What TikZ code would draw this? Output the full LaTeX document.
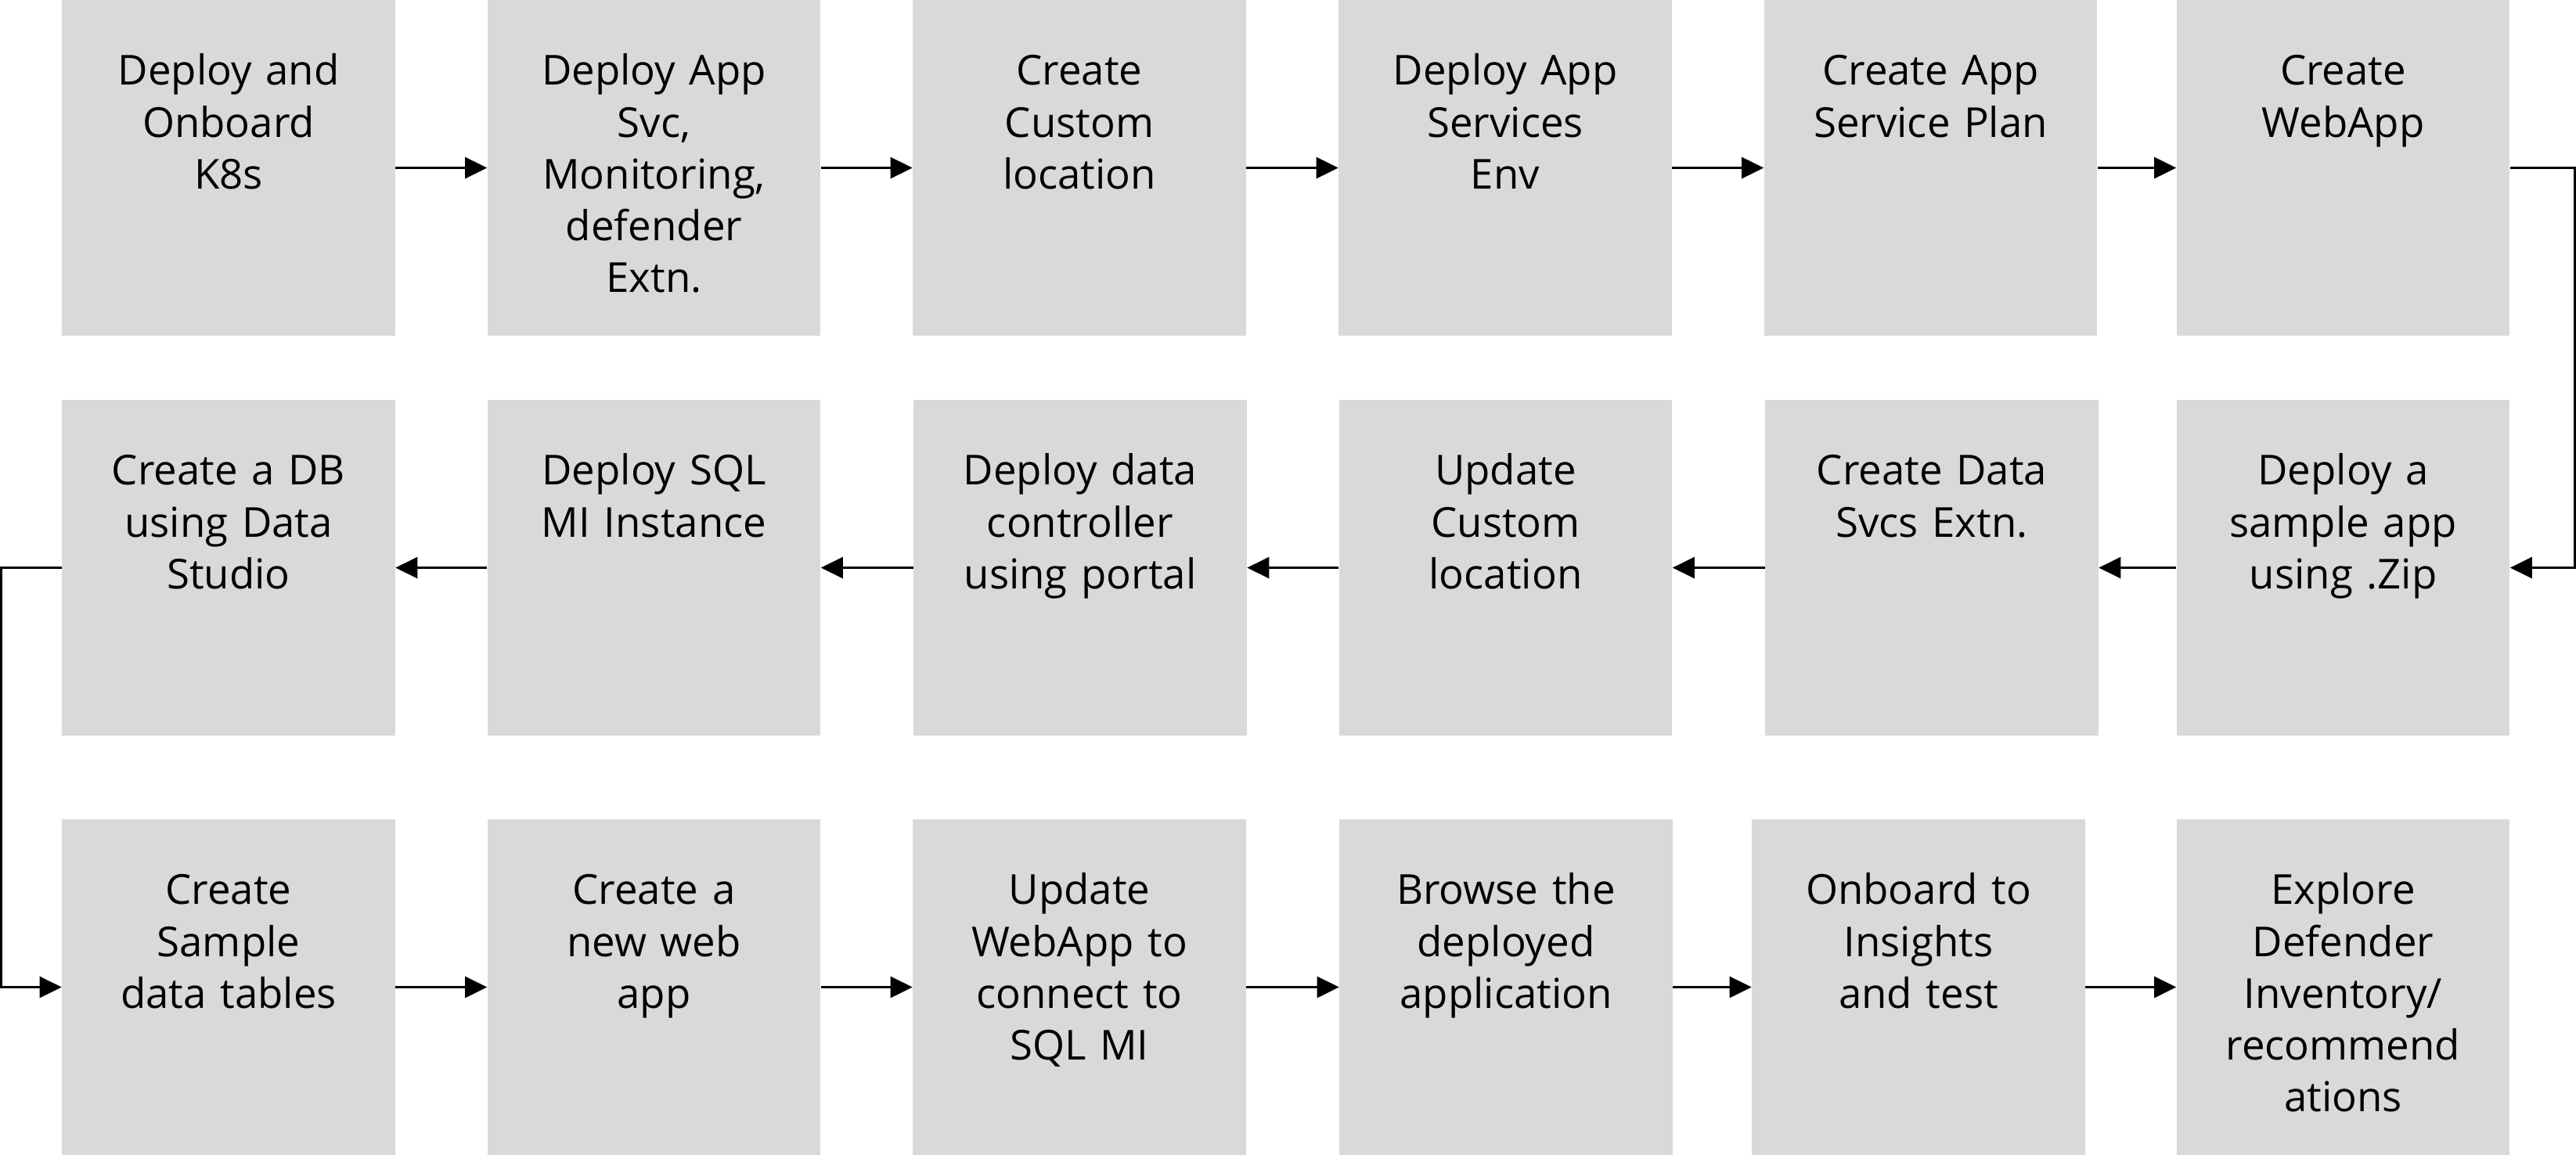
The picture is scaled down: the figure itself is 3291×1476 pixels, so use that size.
\documentclass[tikz,border=0pt]{standalone}
\usepackage{fontspec}
\setmainfont{Open Sans}
\usepackage{tikz}
\usetikzlibrary{arrows.meta}

\definecolor{boxgray}{HTML}{D9D9D9}

\tikzset{
  stepbox/.style = {rectangle, fill = boxgray, inner sep = 0pt, text width = 4.25cm, align = center,
    text height = 1.09cm, text depth = 3.20cm, font = \fontsize{15pt}{18.8pt}\selectfont},
  flow/.style = {line width = 0.8pt, -{Triangle[length = 0.28cm, width = 0.27cm]}}
}

\begin{document}
\begin{tikzpicture}[x = 0.01cm, y = -0.01cm]
\useasboundingbox (0, 0) rectangle (3291, 1476);

% first row, left to right
\node (k8s) at (292, 214.5) [stepbox]{Deploy and\\Onboard\\K8s};
\node (extn) at (835.5, 214.5) [stepbox]{Deploy App\\Svc,\\Monitoring,\\defender\\Extn.};
\node (custloc) at (1379, 214.5) [stepbox]{Create\\Custom\\location};
\node (appenv) at (1923, 214.5) [stepbox]{Deploy App\\Services\\Env};
\node (plan) at (2466.5, 214.5) [stepbox]{Create App\\Service Plan};
\node (webapp) at (2993.5, 214.5) [stepbox]{Create\\WebApp};

% second row, right to left
\node (sample) at (2993.5, 725.5) [stepbox]{Deploy a\\sample app\\using .Zip};
\node (datasvc) at (2468, 725.5) [stepbox]{Create Data\\Svcs Extn.};
\node (updloc) at (1923.5, 725.5) [stepbox]{Update\\Custom\\location};
\node (ctrl) at (1380, 725.5) [stepbox]{Deploy data\\controller\\using portal};
\node (sqlmi) at (835.5, 725.5) [stepbox]{Deploy SQL\\MI Instance};
\node (studio) at (292, 725.5) [stepbox]{Create a DB\\using Data\\Studio};

% third row, left to right
\node (tables) at (292, 1261.5) [stepbox]{Create\\Sample\\data tables};
\node (newapp) at (835.5, 1261.5) [stepbox]{Create a\\new web\\app};
\node (connect) at (1379, 1261.5) [stepbox]{Update\\WebApp to\\connect to\\SQL MI};
\node (browse) at (1924, 1261.5) [stepbox]{Browse the\\deployed\\application};
\node (insights) at (2451, 1261.5) [stepbox]{Onboard to\\Insights\\and test};
\node (defender) at (2993.5, 1261.5) [stepbox]{Explore\\Defender\\Inventory/\\recommend\\ations};

\draw[flow] (k8s) -- (extn);
\draw[flow] (extn) -- (custloc);
\draw[flow] (custloc) -- (appenv);
\draw[flow] (appenv) -- (plan);
\draw[flow] (plan) -- (webapp);
\draw[flow] (webapp.east) -- ++(83, 0) |- (sample.east);

\draw[flow] (sample) -- (datasvc);
\draw[flow] (datasvc) -- (updloc);
\draw[flow] (updloc) -- (ctrl);
\draw[flow] (ctrl) -- (sqlmi);
\draw[flow] (sqlmi) -- (studio);
\draw[flow] (studio.west) -- ++(-77, 0) |- (tables.west);

\draw[flow] (tables) -- (newapp);
\draw[flow] (newapp) -- (connect);
\draw[flow] (connect) -- (browse);
\draw[flow] (browse) -- (insights);
\draw[flow] (insights) -- (defender);

\end{tikzpicture}
\end{document}
